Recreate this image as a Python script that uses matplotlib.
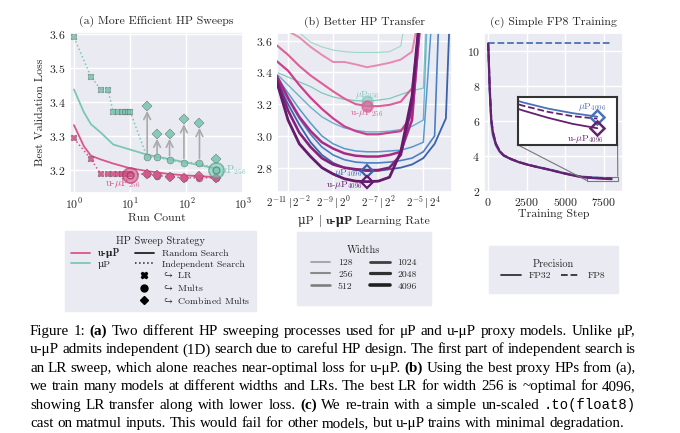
import numpy as np
import matplotlib
matplotlib.use('Agg')
import matplotlib.pyplot as plt
import seaborn as sns
from matplotlib.lines import Line2D
from matplotlib.offsetbox import TextArea, HPacker, AnchoredOffsetbox
from mpl_toolkits.axes_grid1.inset_locator import mark_inset

sns.set_theme(style='darkgrid')
plt.rcParams['font.family'] = ['cmr10', 'DejaVu Serif']
plt.rcParams['mathtext.fontset'] = 'cm'
plt.rcParams['axes.formatter.use_mathtext'] = True
plt.rcParams['axes.unicode_minus'] = True
for k in ['xtick.major.size', 'ytick.major.size', 'xtick.minor.size', 'ytick.minor.size']:
    plt.rcParams[k] = 0

RM = ['cmr10', 'DejaVu Serif']
BF = ['cmb10', 'DejaVu Serif']

# ---------------- data: panel (a) ----------------
runs_lr = [1, 2, 3, 4, 5, 6, 7, 8, 9, 10]
mup_lr_loss = [3.590, 3.475, 3.436, 3.436, 3.371, 3.371, 3.371, 3.371, 3.371, 3.371]
umup_lr_loss = [3.293, 3.232, 3.188, 3.188, 3.188, 3.188, 3.188, 3.188, 3.188, 3.188]
runs_mult = [20, 30, 50, 90, 170, 330]
mup_mult_loss = [3.237, 3.237, 3.230, 3.222, 3.222, 3.201]
mup_comb_loss = [3.388, 3.306, 3.306, 3.349, 3.338, 3.231]
umup_mult_loss = [3.188, 3.183, 3.181, 3.177, 3.177, 3.177]
umup_comb_loss = [3.189, 3.184, 3.180, 3.177, 3.181, 3.176]
runs_random = [1, 1.5, 2, 3, 5, 10, 20, 50, 100, 200, 330]
mup_random = [3.437, 3.37, 3.335, 3.31, 3.275, 3.26, 3.245, 3.232, 3.222, 3.212, 3.205]
umup_random = [3.332, 3.27, 3.242, 3.231, 3.219, 3.205, 3.197, 3.188, 3.184, 3.181, 3.179]

# ---------------- data: panel (b) ----------------
widths = [128, 256, 512, 1024, 2048, 4096]
log2_lr = [-11.5, -11, -10.5, -10, -9.5, -9, -8.5, -8, -7.5, -7, -6.5, -6, -5.5, -5, -4.5, -4, -3.5]
nan = np.nan
mup_sweep = {
    128:  [3.85, 3.75, 3.65, 3.59, 3.56, 3.54, 3.53, 3.525, 3.525, 3.525, 3.53, 3.565, 4.0, nan, nan, nan, nan],
    256:  [3.40, 3.37, 3.34, 3.31, 3.27, 3.245, 3.23, 3.222, 3.218, 3.225, 3.235, 3.26, 3.285, 3.30, 5.0, nan, nan],
    512:  [3.39, 3.32, 3.25, 3.18, 3.12, 3.08, 3.05, 3.035, 3.025, 3.025, 3.03, 3.04, 3.06, 3.10, 5.0, nan, nan],
    1024: [3.37, 3.27, 3.17, 3.08, 3.00, 2.95, 2.92, 2.905, 2.90, 2.90, 2.905, 2.91, 2.93, 2.96, 4.0, nan, nan],
    2048: [3.35, 3.23, 3.11, 3.01, 2.93, 2.88, 2.85, 2.835, 2.83, 2.83, 2.835, 2.845, 2.86, 2.90, 3.00, 5.0, nan],
    4096: [3.34, 3.20, 3.07, 2.96, 2.88, 2.83, 2.80, 2.785, 2.778, 2.78, 2.79, 2.80, 2.82, 2.86, 2.95, 3.11, 5.0],
}
umup_sweep = {
    128:  [3.75, 3.66, 3.62, 3.56, 3.51, 3.465, 3.465, 3.45, 3.432, 3.445, 3.46, 3.48, 3.53, 3.9, nan, nan, nan],
    256:  [3.57, 3.51, 3.44, 3.38, 3.33, 3.28, 3.235, 3.20, 3.187, 3.187, 3.195, 3.215, 3.30, 3.9, nan, nan, nan],
    512:  [3.47, 3.41, 3.32, 3.24, 3.17, 3.11, 3.06, 3.03, 3.01, 3.01, 3.02, 3.03, 3.13, 3.9, nan, nan, nan],
    1024: [3.38, 3.24, 3.12, 3.03, 2.96, 2.92, 2.89, 2.875, 2.87, 2.87, 2.88, 2.90, 3.10, 4.0, nan, nan, nan],
    2048: [3.36, 3.16, 3.02, 2.93, 2.86, 2.82, 2.80, 2.79, 2.785, 2.785, 2.80, 2.88, 3.20, 4.0, nan, nan, nan],
    4096: [3.34, 3.10, 2.95, 2.87, 2.80, 2.76, 2.73, 2.715, 2.712, 2.715, 2.74, 2.90, 3.25, 4.0, nan, nan, nan],
}
best_lr_256 = -7.5
lr_ticks = [-11, -9, -7, -5]
lr_ticklabels = [r'$2^{-11}\,|\,\mathbf{2^{-2}}$', r'$2^{-9}\,|\,\mathbf{2^{0}}$',
                 r'$2^{-7}\,|\,\mathbf{2^{2}}$', r'$2^{-5}\,|\,\mathbf{2^{4}}$']

# ---------------- data: panel (c) ----------------
steps = [0, 50, 100, 200, 300, 500, 750, 1000, 1500, 2000, 2500, 3000, 4000, 5000, 6000, 6500, 7000, 7500, 8000]
mup_fp32 = [10.4, 9.0, 7.6, 5.9, 5.2, 4.62, 4.25, 4.03, 3.82, 3.66, 3.54, 3.43, 3.24, 3.03, 2.85, 2.815, 2.787, 2.766, 2.750]
umup_fp32 = [10.4, 9.2, 7.9, 6.1, 5.4, 4.70, 4.28, 4.05, 3.83, 3.66, 3.53, 3.42, 3.22, 3.00, 2.815, 2.778, 2.745, 2.717, 2.697]
umup_fp8 = [10.4, 9.2, 7.9, 6.1, 5.4, 4.71, 4.29, 4.06, 3.84, 3.67, 3.54, 3.43, 3.23, 3.02, 2.835, 2.800, 2.772, 2.752, 2.741]
mup_fp8_steps = [0, 8000]
mup_fp8 = [10.4, 10.4]

# ---------------- colours ----------------
c_umup = '#d9558a'
c_mup = '#7cc7b3'
mup_cols = ['#9ed8c4', '#80c7bd', '#6ab0d0', '#5898cb', '#4a80c2', '#3a62ab']
umup_cols = ['#e68ab0', '#dc5f98', '#c8408e', '#a82a86', '#862079', '#641a6d']
mup_lw = [0.8, 0.9, 1.0, 1.1, 1.2, 1.3]
umup_lw = [1.4, 1.5, 1.6, 1.8, 1.9, 2.0]
c_blue = '#4a72b8'
c_purple = '#662070'
leg_bg = '#EAEAF2'

fig = plt.figure(figsize=(6.8, 4.33), dpi=100)
FS = 8.5

# ================= panel (a) =================
ax = fig.add_axes([0.103, 0.554, 0.254, 0.372])
ax.set_xscale('log')
ax.plot(runs_random, mup_random, '-', color=c_mup, lw=1.3, zorder=2)
ax.plot(runs_random, umup_random, '-', color=c_umup, lw=1.3, zorder=2)
ax.plot(runs_lr + runs_mult, mup_lr_loss + mup_mult_loss, ':', color=c_mup, lw=1.1, zorder=2)
ax.plot(runs_lr + runs_mult, umup_lr_loss + umup_mult_loss, ':', color=c_umup, lw=1.1, zorder=2)
for x, y0, y1 in zip(runs_mult[:-1], mup_mult_loss[:-1], mup_comb_loss[:-1]):
    ax.annotate('', xy=(x, y1 - 0.006), xytext=(x, y0 + 0.004),
                arrowprops=dict(arrowstyle='->', color='#aaaaaa', lw=1.2), zorder=1)
for col, lr_l, mu_l, co_l in [(c_mup, mup_lr_loss, mup_mult_loss, mup_comb_loss),
                              (c_umup, umup_lr_loss, umup_mult_loss, umup_comb_loss)]:
    ax.plot(runs_lr, lr_l, 'X', color=col, ms=5, mec='#555555', mew=0.3, alpha=0.9, zorder=3)
    ax.plot(runs_mult, mu_l, 'o', color=col, ms=5, mec='#555555', mew=0.3, alpha=0.9, zorder=3)
    ax.plot(runs_mult, co_l, 'D', color=col, ms=4.8, mec='#555555', mew=0.3, alpha=0.9, zorder=3)
# best points
ax.plot([runs_mult[-1]], [mup_mult_loss[-1]], 'o', ms=11, mfc=c_mup, mec='#4f9d88', mew=1.2, alpha=0.6, zorder=4)
ax.plot([runs_mult[-1]], [mup_mult_loss[-1]], 'o', ms=5, mfc='none', mec='#4f9d88', mew=0.9, zorder=4)
ax.plot([runs_lr[-1]], [umup_lr_loss[-1] - 0.004], 'o', ms=11, mfc=c_umup, mec='#b03a6c', mew=1.2, alpha=0.6, zorder=4)
ax.plot([runs_lr[-1]], [umup_lr_loss[-1] - 0.004], 'o', ms=5, mfc='none', mec='#b03a6c', mew=0.9, zorder=4)
ax.text(390, 3.199, r'$\mu$P$_{256}$', color=c_mup, fontsize=7.5, ha='left', va='center')
ax.text(7.5, 3.163, r'u-$\mu$P$_{256}$', color=c_umup, fontsize=7.5, ha='center', va='center')
ax.set_xlim(10 ** -0.07, 1000)
ax.set_ylim(3.132, 3.606)
ax.set_yticks([3.2, 3.3, 3.4, 3.5, 3.6])
ax.set_xticks([1, 10, 100, 1000])
ax.xaxis.set_minor_locator(matplotlib.ticker.NullLocator())
ax.tick_params(labelsize=FS, pad=3)
ax.set_xlabel('Run Count', fontsize=FS, labelpad=1)
ax.set_ylabel('Best Validation Loss', fontsize=FS, labelpad=3)
ax.set_title('(a) More Efficient HP Sweeps', fontsize=FS, pad=6)

handles_a = [Line2D([], [], color=c_umup, lw=1.3), Line2D([], [], color=c_mup, lw=1.3),
             Line2D([], [], alpha=0), Line2D([], [], alpha=0), Line2D([], [], alpha=0),
             Line2D([], [], color='#222222', lw=1.3), Line2D([], [], color='#222222', lw=1.1, ls=':'),
             Line2D([], [], color='black', marker='X', ls='none', ms=5),
             Line2D([], [], color='black', marker='o', ls='none', ms=5),
             Line2D([], [], color='black', marker='D', ls='none', ms=4.5)]
labels_a = ['u-μP', 'μP', ' ', ' ', ' ', 'Random Search', 'Independent Search',
            r'$\hookrightarrow$ LR', r'$\hookrightarrow$ Mults', r'$\hookrightarrow$ Combined Mults']
leg = fig.legend(handles_a, labels_a, ncol=2, loc='upper center', bbox_to_anchor=(0.236, 0.478),
                 title='HP Sweep Strategy', fontsize=7, title_fontsize=7.5, frameon=True,
                 facecolor=leg_bg, edgecolor=leg_bg, framealpha=1, fancybox=False,
                 handlelength=2.0, columnspacing=1.5, labelspacing=0.18, borderpad=0.55, handletextpad=0.8)
leg.get_texts()[0].set_fontfamily(BF)
leg.get_texts()[0].set_fontweight('bold')

# ================= panel (b) =================
bx = fig.add_axes([0.407, 0.557, 0.257, 0.367])
for i, w in enumerate(widths):
    bx.plot(log2_lr, mup_sweep[w], '-', color=mup_cols[i], lw=mup_lw[i], zorder=2)
for i, w in enumerate(widths):
    bx.plot(log2_lr, umup_sweep[w], '-', color=umup_cols[i], lw=umup_lw[i], zorder=3)
i8 = log2_lr.index(best_lr_256)
bx.plot([best_lr_256], [mup_sweep[256][i8]], 'o', ms=7.5, mfc=mup_cols[1], mec=mup_cols[1], mew=1.5, alpha=0.6, zorder=5)
bx.plot([best_lr_256], [umup_sweep[256][i8]], 'o', ms=7.5, mfc=umup_cols[1], mec=umup_cols[1], mew=1.5, alpha=0.7, zorder=5)
bx.plot([best_lr_256], [mup_sweep[4096][i8]], 'D', ms=6.5, mfc='none', mec=mup_cols[5], mew=1.6, zorder=5)
bx.plot([best_lr_256], [umup_sweep[4096][i8]], 'D', ms=6.5, mfc='none', mec=umup_cols[5], mew=1.6, zorder=5)
bx.text(best_lr_256, mup_sweep[256][i8] + 0.04, r'$\mu$P$_{256}$', color=mup_cols[1], fontsize=7, ha='center', va='center')
bx.text(best_lr_256, umup_sweep[256][i8] - 0.045, r'u-$\mu$P$_{256}$', color=umup_cols[1], fontsize=7, ha='center', va='center')
bx.text(best_lr_256 - 0.2, mup_sweep[4096][i8] - 0.012, r'$\mu$P$_{4096}$', color=mup_cols[5], fontsize=7, ha='right', va='center')
bx.text(best_lr_256 - 0.2, umup_sweep[4096][i8] - 0.022, r'u-$\mu$P$_{4096}$', color=umup_cols[5], fontsize=7, ha='right', va='center')
bx.set_xlim(-11.5, -3.75)
bx.set_ylim(2.648, 3.648)
bx.set_yticks([2.8, 3.0, 3.2, 3.4, 3.6])
bx.set_xticks(lr_ticks)
bx.set_xticklabels(lr_ticklabels)
bx.tick_params(labelsize=FS, pad=3)
bx.tick_params(axis='x', labelsize=8, pad=2)
bx.set_title('(b) Better HP Transfer', fontsize=FS, pad=6)
xl = HPacker(children=[TextArea('μP ', textprops=dict(fontsize=FS, family=RM)),
                       TextArea(r'$|$', textprops=dict(fontsize=FS)),
                       TextArea(' ', textprops=dict(fontsize=FS, family=RM)),
                       TextArea('u-μP', textprops=dict(fontsize=FS, family=BF, fontweight='bold')),
                       TextArea(' Learning Rate', textprops=dict(fontsize=FS, family=RM))],
             pad=0, sep=0, align='baseline')
bx.add_artist(AnchoredOffsetbox(loc='center', child=xl, bbox_to_anchor=(0.5, -0.185),
                                bbox_transform=bx.transAxes, frameon=False, pad=0, borderpad=0))

wgray = ['#9a9a9a', '#8a8a8a', '#7a7a7a', '#404040', '#303030', '#202020']
wlw = [1.2, 1.5, 1.8, 2.0, 2.3, 2.6]
handles_b = [Line2D([], [], color=wgray[i], lw=wlw[i]) for i in range(6)]
fig.legend(handles_b, [str(w) for w in widths], ncol=2, loc='upper center', bbox_to_anchor=(0.535, 0.476),
           title='Widths', fontsize=7, title_fontsize=7.5, frameon=True,
           facecolor=leg_bg, edgecolor=leg_bg, framealpha=1, fancybox=False,
           handlelength=2.0, columnspacing=1.8, labelspacing=0.3, borderpad=1.45, handletextpad=0.8)

# ================= panel (c) =================
cx = fig.add_axes([0.712, 0.557, 0.204, 0.367])
cx.plot(mup_fp8_steps, mup_fp8, '--', color=c_blue, lw=1.3, zorder=2)
cx.plot(steps, mup_fp32, '-', color=c_blue, lw=1.5, zorder=2)
cx.plot(steps, umup_fp8, '--', color=c_purple, lw=1.5, zorder=3)
cx.plot(steps, umup_fp32, '-', color=c_purple, lw=1.5, zorder=3)
cx.set_xlim(-260, 8730)
cx.set_ylim(1.98, 11.0)
cx.set_xticks([0, 2500, 5000, 7500])
cx.set_yticks([2, 4, 6, 8, 10])
cx.tick_params(labelsize=FS, pad=3)
cx.set_xlabel('Training Step', fontsize=FS, labelpad=1)
cx.set_title('(c) Simple FP8 Training', fontsize=FS, pad=6)

ix = fig.add_axes([0.762, 0.665, 0.1456, 0.111])
ix.set_facecolor('white')
ix.plot(steps, mup_fp32, '-', color=c_blue, lw=1.3)
ix.plot(steps, umup_fp8, '--', color=c_purple, lw=1.3)
ix.plot(steps, umup_fp32, '-', color=c_purple, lw=1.3)
ix.plot([steps[-1]], [mup_fp32[-1]], 'D', ms=7, mfc='none', mec=c_blue, mew=1.8)
ix.plot([steps[-1]], [umup_fp32[-1]], 'D', ms=7, mfc='none', mec=c_purple, mew=1.8)
ix.text(steps[-1] - 100, mup_fp32[-1] + 0.045, r'$\mu$P$_{4096}$', color=c_blue, fontsize=7, ha='center', va='center')
ix.text(steps[-1] - 250, umup_fp32[-1] - 0.05, r'u-$\mu$P$_{4096}$', color=c_purple, fontsize=7, ha='center', va='center')
ix.set_xlim(6400, 8400)
ix.set_ylim(2.62, 2.84)
ix.set_xticks([])
ix.set_yticks([])
ix.grid(False)
for s in ix.spines.values():
    s.set_visible(True)
    s.set_color('#333333')
    s.set_linewidth(1.5)
mark_inset(cx, ix, loc1=3, loc2=1, fc='none', ec='#777777', lw=0.8)

handles_c = [Line2D([], [], color='#333333', lw=1.3), Line2D([], [], color='#333333', lw=1.3, ls='--')]
fig.legend(handles_c, ['FP32', 'FP8'], ncol=2, loc='upper center', bbox_to_anchor=(0.814, 0.442),
           title='Precision', fontsize=7, title_fontsize=7.5, frameon=True,
           facecolor=leg_bg, edgecolor=leg_bg, framealpha=1, fancybox=False,
           handlelength=2.0, columnspacing=1.0, labelspacing=0.3, borderpad=1.3, handletextpad=0.8)

# ================= caption (justified) =================
CAP = ['Liberation Serif', 'DejaVu Serif']
MONO = ['Liberation Mono', 'DejaVu Sans Mono']
CFS = 10.8
cap_lines = [
    [('Figure 1: ', 'r'), ('(a)', 'b'), (' Two different HP sweeping processes used for μP and u-μP proxy models. Unlike μP,', 'r')],
    [('u-μP admits independent (1D) search due to careful HP design. The first part of independent search is', 'r')],
    [('an LR sweep, which alone reaches near-optimal loss for u-μP. ', 'r'), ('(b)', 'b'), (' Using the best proxy HPs from (a),', 'r')],
    [('we train many models at different widths and LRs. The best LR for width 256 is ~optimal for 4096,', 'r')],
    [('showing LR transfer along with lower loss. ', 'r'), ('(c)', 'b'), (' We re-train with a simple un-scaled ', 'r'), ('.to(float8)', 'm')],
    [('cast on matmul inputs. This would fail for other models, but u-μP trains with minimal degradation.', 'r')],
]
styles = {'r': dict(fontsize=CFS, family=CAP),
          'b': dict(fontsize=CFS, family=CAP, fontweight='bold'),
          'm': dict(fontsize=CFS - 0.8, family=MONO)}
W_PX, H_PX = 680.0, 433.0
X_LEFT, X_RIGHT = 30.0, 636.0
BASE0, LINE_STEP = 335.0, 18.4
renderer = fig.canvas.get_renderer()
space_px = 0.25 * CFS * 100 / 72.0
for li, line in enumerate(cap_lines):
    words = []
    for txt, sty in line:
        for w in txt.split(' '):
            if w:
                t = fig.text(0, 0, w, ha='left', va='baseline', color='black', **styles[sty])
                words.append((t, t.get_window_extent(renderer).width))
    total = sum(wd for _, wd in words)
    if li < len(cap_lines) - 1 and len(words) > 1:
        gap = (X_RIGHT - X_LEFT - total) / (len(words) - 1)
    else:
        gap = space_px
    xpos = X_LEFT
    ybase = BASE0 + li * LINE_STEP
    for t, wd in words:
        t.set_position((xpos / W_PX, 1 - ybase / H_PX))
        xpos += wd + gap

fig.savefig('out.png', dpi=100)
